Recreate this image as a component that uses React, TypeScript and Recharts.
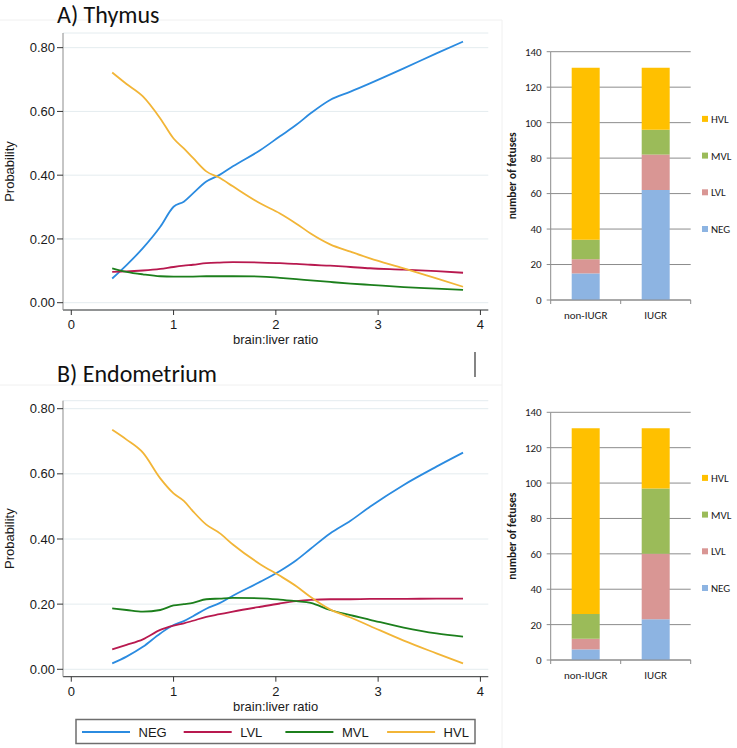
import { LineChart, Line, XAxis, YAxis, CartesianGrid, BarChart, Bar } from 'recharts';

// series shared by line charts, bar charts and legends
const SERIES = ['NEG', 'LVL', 'MVL', 'HVL'];
const LINE_COLORS = ['#2b8be0', '#b8194f', '#1c7f1c', '#f2b537'];
const BAR_COLORS = ['#8db4e2', '#d99694', '#9bbb59', '#ffc000'];

// predicted probability vs brain:liver ratio
const RATIO = [0.40, 0.54, 0.70, 0.87, 1.00, 1.10, 1.19, 1.32, 1.45, 1.58, 1.85, 2.04, 2.20, 2.34, 2.53, 2.73, 2.92, 3.25, 3.57, 3.83];

// A) Thymus
const NEG_A = [0.076, 0.118, 0.171, 0.238, 0.301, 0.317, 0.343, 0.380, 0.401, 0.428, 0.479, 0.522, 0.558, 0.594, 0.636, 0.662, 0.688, 0.735, 0.782, 0.819];
const LVL_A = [0.097, 0.098, 0.101, 0.106, 0.112, 0.116, 0.119, 0.124, 0.126, 0.127, 0.126, 0.124, 0.122, 0.119, 0.116, 0.112, 0.108, 0.104, 0.099, 0.094];
const MVL_A = [0.108, 0.097, 0.089, 0.083, 0.082, 0.082, 0.082, 0.083, 0.083, 0.083, 0.082, 0.078, 0.074, 0.070, 0.065, 0.060, 0.056, 0.049, 0.044, 0.040];
const HVL_A = [0.722, 0.686, 0.647, 0.578, 0.515, 0.484, 0.454, 0.412, 0.392, 0.365, 0.311, 0.280, 0.248, 0.217, 0.183, 0.160, 0.139, 0.108, 0.076, 0.050];

// B) Endometrium
const NEG_B = [0.018, 0.039, 0.069, 0.110, 0.136, 0.148, 0.163, 0.186, 0.203, 0.226, 0.269, 0.302, 0.335, 0.370, 0.417, 0.456, 0.499, 0.566, 0.622, 0.665];
const LVL_B = [0.061, 0.075, 0.092, 0.121, 0.134, 0.141, 0.149, 0.161, 0.169, 0.177, 0.192, 0.202, 0.209, 0.213, 0.215, 0.215, 0.216, 0.216, 0.217, 0.217];
const MVL_B = [0.187, 0.182, 0.177, 0.182, 0.196, 0.200, 0.204, 0.215, 0.217, 0.219, 0.218, 0.214, 0.209, 0.204, 0.182, 0.166, 0.152, 0.128, 0.110, 0.100];
const HVL_B = [0.735, 0.705, 0.665, 0.586, 0.540, 0.517, 0.485, 0.444, 0.418, 0.383, 0.322, 0.287, 0.255, 0.222, 0.184, 0.159, 0.133, 0.088, 0.049, 0.018];

// number of fetuses by group
const GROUPS = ['non-IUGR', 'IUGR'];
const COUNT_A = { NEG: [15, 62], LVL: [8, 20], MVL: [11, 14], HVL: [97, 35] };
const COUNT_B = { NEG: [6, 23], LVL: [6, 37], MVL: [14, 37], HVL: [105, 34] };

const X_TICKS = [0, 1, 2, 3, 4];
const P_TICKS = [0, 0.2, 0.4, 0.6, 0.8];
const N_TICKS = [0, 20, 40, 60, 80, 100, 120, 140];

const ARIAL = '"Liberation Sans", Arial, sans-serif';
const CALIBRI = 'Carlito, Calibri, Lato, sans-serif';

const probRows = (series: number[][]) =>
  RATIO.map((x, i) => {
    const row: Record<string, number> = { x };
    SERIES.forEach((s, k) => { row[s] = series[k][i]; });
    return row;
  });

const countRows = (c: Record<string, number[]>) =>
  GROUPS.map((g, i) => {
    const row: Record<string, any> = { group: g };
    SERIES.forEach(s => { row[s] = c[s][i]; });
    return row;
  });

function ProbChart({ rows, top, height, marginTop, yDomain }: any) {
  return (
    <div style={{ position: 'absolute', left: 0, top }}>
      <LineChart width={495} height={height} data={rows}
        margin={{ top: marginTop, right: 6.7, bottom: 0, left: 0 }}>
        <CartesianGrid vertical={false} stroke="#e4ecef" />
        <XAxis type="number" dataKey="x" domain={[-0.081, 4.077]} ticks={X_TICKS} allowDataOverflow
          height={40} tickSize={5} tickMargin={5} stroke="#333"
          tick={{ fill: '#1a1a1a', fontSize: 13, fontFamily: ARIAL }}
          label={{ value: 'brain:liver ratio', position: 'insideBottom', offset: 6, fill: '#1a1a1a', fontSize: 13, fontFamily: ARIAL }} />
        <YAxis type="number" domain={yDomain} ticks={P_TICKS} allowDataOverflow width={63}
          tickSize={6} tickMargin={2} stroke="#8c8c8c" tickLine={{ stroke: '#333' }}
          tickFormatter={(v: number) => v.toFixed(2)}
          tick={{ fill: '#1a1a1a', fontSize: 13, fontFamily: ARIAL }}
          label={{ value: 'Probability', angle: -90, position: 'insideLeft', offset: 9, fill: '#1a1a1a', fontSize: 13, fontFamily: ARIAL, style: { textAnchor: 'middle' } }} />
        {SERIES.map((s, i) => (
          <Line key={s} dataKey={s} type="monotone" stroke={LINE_COLORS[i]} strokeWidth={1.8}
            dot={false} isAnimationActive={false} />
        ))}
      </LineChart>
    </div>
  );
}

function GroupTick({ x, y, payload, index }: any) {
  const half = 35;
  return (
    <g>
      <line x1={x - half} x2={x - half} y1={y} y2={y + 4} stroke="#8c8c8c" />
      {index === GROUPS.length - 1 && <line x1={x + half} x2={x + half} y1={y} y2={y + 4} stroke="#8c8c8c" />}
      <text x={x} y={y + 19} textAnchor="middle" fill="#1a1a1a" fontSize={11} fontFamily={CALIBRI}>{payload.value}</text>
    </g>
  );
}

function CountChart({ rows, top, marginTop }: any) {
  return (
    <div style={{ position: 'absolute', left: 500, top }}>
      <BarChart width={237} height={300} data={rows} barSize={28}
        margin={{ top: marginTop, right: 46.3, bottom: 0, left: 0 }}>
        <CartesianGrid vertical={false} stroke="#8c8c8c" />
        <XAxis dataKey="group" height={40} tickSize={0} tickMargin={0} tickLine={false}
          interval={0} stroke="#8c8c8c" tick={<GroupTick />} />
        <YAxis domain={[0, 140]} ticks={N_TICKS} width={50.7} tickSize={4} tickMargin={5}
          stroke="#8c8c8c" tick={{ fill: '#1a1a1a', fontSize: 11, fontFamily: CALIBRI }}
          label={{ value: 'number of fetuses', angle: -90, position: 'insideLeft', offset: 12, fill: '#1a1a1a', fontSize: 11.5, fontWeight: 'bold', fontFamily: CALIBRI, style: { textAnchor: 'middle' } }} />
        {SERIES.map((s, i) => (
          <Bar key={s} dataKey={s} stackId="n" fill={BAR_COLORS[i]} isAnimationActive={false} />
        ))}
      </BarChart>
    </div>
  );
}

function BarLegend({ bottomY }: { bottomY: number }) {
  return (
    <g>
      {SERIES.map((s, i) => {
        const y = bottomY - i * 36.7;
        return (
          <g key={s}>
            <rect x={702} y={y - 3} width={6} height={6} fill={BAR_COLORS[i]} />
            <text x={711} y={y + 4} fontSize={11} fontFamily={CALIBRI} fill="#1a1a1a">{s}</text>
          </g>
        );
      })}
    </g>
  );
}

export default function App() {
  return (
    <div style={{ position: 'absolute', left: 0, top: 0, width: 737, height: 748, background: '#fff', overflow: 'hidden', fontFamily: ARIAL }}>
      <ProbChart rows={probRows([NEG_A, LVL_A, MVL_A, HVL_A])} top={0} height={350} marginTop={33} yDomain={[-0.0229, 0.846]} />
      <ProbChart rows={probRows([NEG_B, LVL_B, MVL_B, HVL_B])} top={360} height={356.7} marginTop={40.7} yDomain={[-0.0227, 0.8245]} />
      <CountChart rows={countRows(COUNT_A)} top={40} marginTop={11.7} />
      <CountChart rows={countRows(COUNT_B)} top={400} marginTop={12.3} />
      <svg width={737} height={748} style={{ position: 'absolute', left: 0, top: 0, pointerEvents: 'none' }}>
        <line x1={0} x2={502} y1={20} y2={20} stroke="#f0f0f0" />
        <line x1={0} x2={502} y1={385} y2={385} stroke="#f0f0f0" />
        <line x1={502} x2={502} y1={20} y2={748} stroke="#f0f0f0" />
        <line x1={475} x2={475} y1={352} y2={377} stroke="#333" strokeWidth={1.2} />
        <text x={57} y={22.5} fontSize={24} fontFamily={CALIBRI} fill="#111">A) Thymus</text>
        <text x={57} y={382} fontSize={24} fontFamily={CALIBRI} fill="#111">B) Endometrium</text>
        <BarLegend bottomY={229} />
        <BarLegend bottomY={588} />
        <rect x={76} y={719.5} width={399} height={24} fill="#fff" stroke="#6e6e6e" strokeWidth={1.5} />
        {SERIES.map((s, i) => {
          const x0 = 82 + i * 101.7;
          return (
            <g key={s}>
              <line x1={x0} x2={x0 + 48} y1={732} y2={732} stroke={LINE_COLORS[i]} strokeWidth={1.8} />
              <text x={x0 + 56.5} y={736.5} fontSize={13} fontFamily={ARIAL} fill="#1a1a1a">{s}</text>
            </g>
          );
        })}
      </svg>
    </div>
  );
}
